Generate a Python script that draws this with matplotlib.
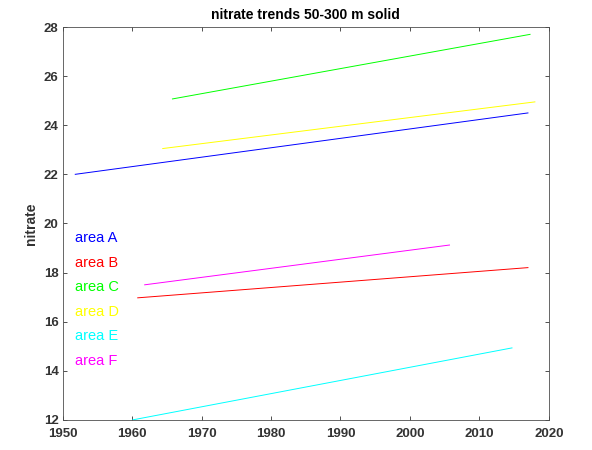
import matplotlib
matplotlib.use('Agg')
import matplotlib.pyplot as plt
import numpy as np

plt.rcParams['font.family'] = ['Liberation Sans', 'DejaVu Sans']

# trend end points per area (start year, end year, start value, end value)
areas = ['area A', 'area B', 'area C', 'area D', 'area E', 'area F']
# matlab style b r g y c m
colors = [(0, 0, 1), (1, 0, 0), (0, 1, 0), (1, 1, 0), (0, 1, 1), (1, 0, 1)]
yr0 = [1951.8, 1960.8, 1965.8, 1964.4, 1960.1, 1961.8]
yr1 = [2017.0, 2017.0, 2017.3, 2018.0, 2014.7, 2005.7]
val0 = [22.0, 16.97, 25.07, 23.05, 12.0, 17.5]
val1 = [24.5, 18.2, 27.7, 24.95, 14.93, 19.12]
label_y = [19.4, 18.4, 17.4, 16.4, 15.4, 14.4]

fig = plt.figure(figsize=(5.92, 4.5), dpi=100)
ax = fig.add_axes([0.106, 0.067, 0.821, 0.873])

for i in range(len(areas)):
    ax.plot([yr0[i], yr1[i]], [val0[i], val1[i]], color=colors[i], lw=0.7)
    ax.text(1951.8, label_y[i], areas[i], color=colors[i], fontsize=10.5, va='center')

ax.set_xlim(1950, 2020)
ax.set_ylim(12, 28)
ax.set_xticks(np.arange(1950, 2021, 10))
ax.set_yticks(np.arange(12, 29, 2))
ax.tick_params(direction='in', top=True, right=True, labelsize=9.5, colors='0.2', length=3, width=0.6, pad=3)
ax.tick_params(axis='x', pad=6)
for lab in ax.get_xticklabels() + ax.get_yticklabels():
    lab.set_fontweight('bold')
for s in ax.spines.values():
    s.set_color('0.3')
    s.set_linewidth(0.6)
ax.set_ylabel('nitrate', fontsize=10, fontweight='bold', color='0.2', labelpad=4)
ax.set_title('nitrate trends 50-300 m solid', fontsize=10, fontweight='bold', pad=6)

fig.savefig('out.png', dpi=100)
